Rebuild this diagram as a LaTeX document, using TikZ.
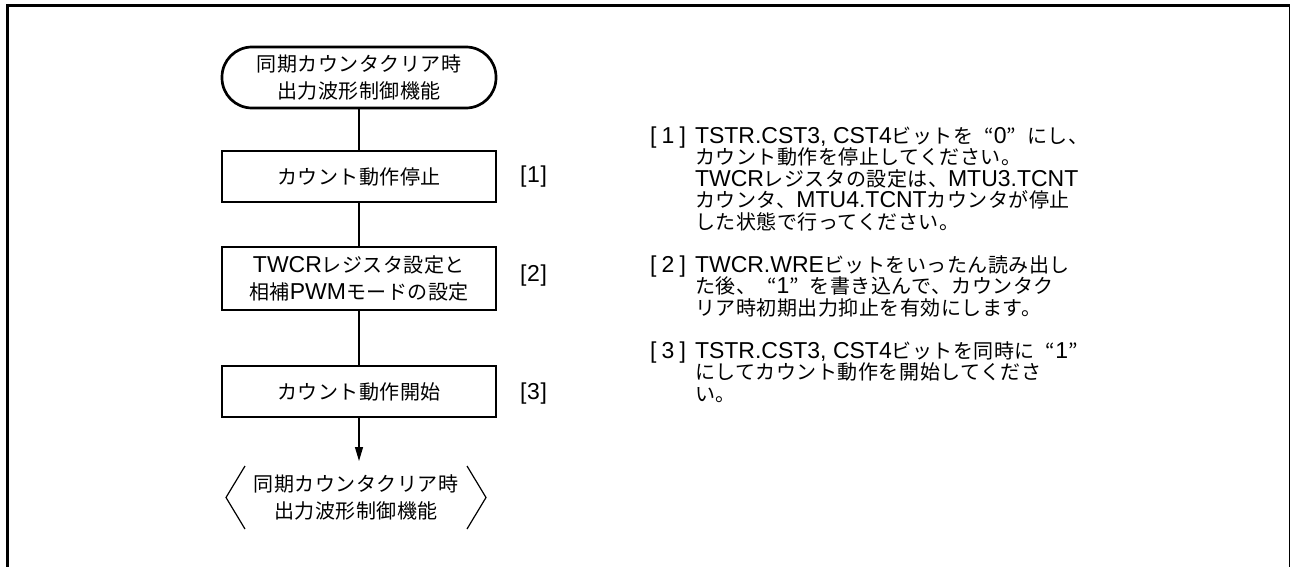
\documentclass[tikz,border=0pt]{standalone}
\usepackage{fontspec}
\setmainfont{Liberation Sans}
\newfontfamily\cjk[Scale=0.87,LetterSpace=2.5]{Noto Sans CJK JP}
\usetikzlibrary{arrows.meta}
\newcommand{\jp}[1]{{\cjk #1}}
\newcommand{\brk}[2]{\makebox[#1][s]{[\hfil #2\hfil]}}
\newcommand{\jlq}{\makebox[20.5pt][r]{\jp{“}}}
\newcommand{\jrq}{\makebox[20.5pt][l]{\jp{”}}}
\begin{document}
\begin{tikzpicture}[x=1pt,y=-1pt,
  every node/.style={inner sep=0pt, outer sep=0pt},
  txt/.style={font=\fontsize{23}{27.5}\selectfont, align=center},
  procbox/.style={txt, draw, line width=2.7pt, minimum width=274pt},
  term/.style={txt, draw, line width=2.7pt, rounded corners=30pt, minimum width=274pt},
  conn/.style={line width=1.2pt},
  chev/.style={line width=1.2pt},
  lbl/.style={font=\fontsize{23}{21.5}\selectfont, anchor=west},
  rline/.style={font=\fontsize{23}{21.5}\selectfont, anchor=base west},
]
\useasboundingbox (0,0) rectangle (1290,567);
\fill[white] (0,0) rectangle (1290,567);
% frame
\draw[line width=3pt] (7.5,567) -- (7.5,5.5) -- (1290,5.5);
\draw[line width=1.3pt] (1289.2,5.5) -- (1289.2,567);

% flow
\node[term, minimum height=61pt] (start) at (359,77.5) {\jp{同期カウンタクリア時}\\\jp{出力波形制御機能}};
\node[procbox, minimum height=51pt] (b1) at (359,176.5) {\jp{カウント動作停止}};
\node[procbox, minimum height=63pt] (b2) at (359,278.5) {TWCR\jp{レジスタ設定と}\\\jp{相補}PWM\jp{モードの設定}};
\node[procbox, minimum height=51pt] (b3) at (359,391.5) {\jp{カウント動作開始}};
\node[txt, minimum width=260pt, minimum height=63pt] (end) at (356,497.5) {\jp{同期カウンタクリア時}\\\jp{出力波形制御機能}};
\coordinate (endtop) at (359,461);

\draw[conn] (start) -- (b1);
\draw[conn] (b1) -- (b2);
\draw[conn] (b2) -- (b3);
\draw[conn,-{Triangle[width=8pt,length=14pt]}] (b3.south) -- (endtop);

\draw[chev] ([xshift=19pt]end.north west) -- (end.west) -- ([xshift=19pt]end.south west);
\draw[chev] ([xshift=-19pt]end.north east) -- (end.east) -- ([xshift=-19pt]end.south east);

% step labels
\node[lbl] (l1) at (520,177) {\brk{27pt}{1}};
\node[lbl] (l2) at (520,276) {\brk{27pt}{2}};
\node[lbl] (l3) at (520,394) {\brk{27pt}{3}};

% right text
\node[rline] (n1) at (650,143) {\brk{36pt}{1}};
\node[rline] (r1a) at (695,143) {TSTR.CST3, CST4\jp{ビットを}\jlq 0\jrq\jp{にし、}};
\node[rline] (r1b) at (695,164.5) {\jp{カウント動作を停止してください。}};
\node[rline] (r1c) at (695,186) {TWCR\jp{レジスタの設定は、}MTU3.TCNT};
\node[rline] (r1d) at (695,207.5) {\jp{カウンタ、}MTU4.TCNT\jp{カウンタが停止}};
\node[rline] (r1e) at (695,229) {\jp{した状態で行ってください。}};

\node[rline] (n2) at (650,272) {\brk{36pt}{2}};
\node[rline] (r2a) at (695,272) {TWCR.WRE\jp{ビットをいったん読み出し}};
\node[rline] (r2b) at (695,293.5) {\jp{た後、}\jlq 1\jrq\jp{を書き込んで、カウンタク}};
\node[rline] (r2c) at (695,315) {\jp{リア時初期出力抑止を有効にします。}};

\node[rline] (n3) at (650,358) {\brk{36pt}{3}};
\node[rline] (r3a) at (695,358) {TSTR.CST3, CST4\jp{ビットを同時に}\jlq 1\jrq};
\node[rline] (r3b) at (695,379.5) {\jp{にしてカウント動作を開始してくださ}};
\node[rline] (r3c) at (695,401) {\jp{い。}};
\end{tikzpicture}
\end{document}
